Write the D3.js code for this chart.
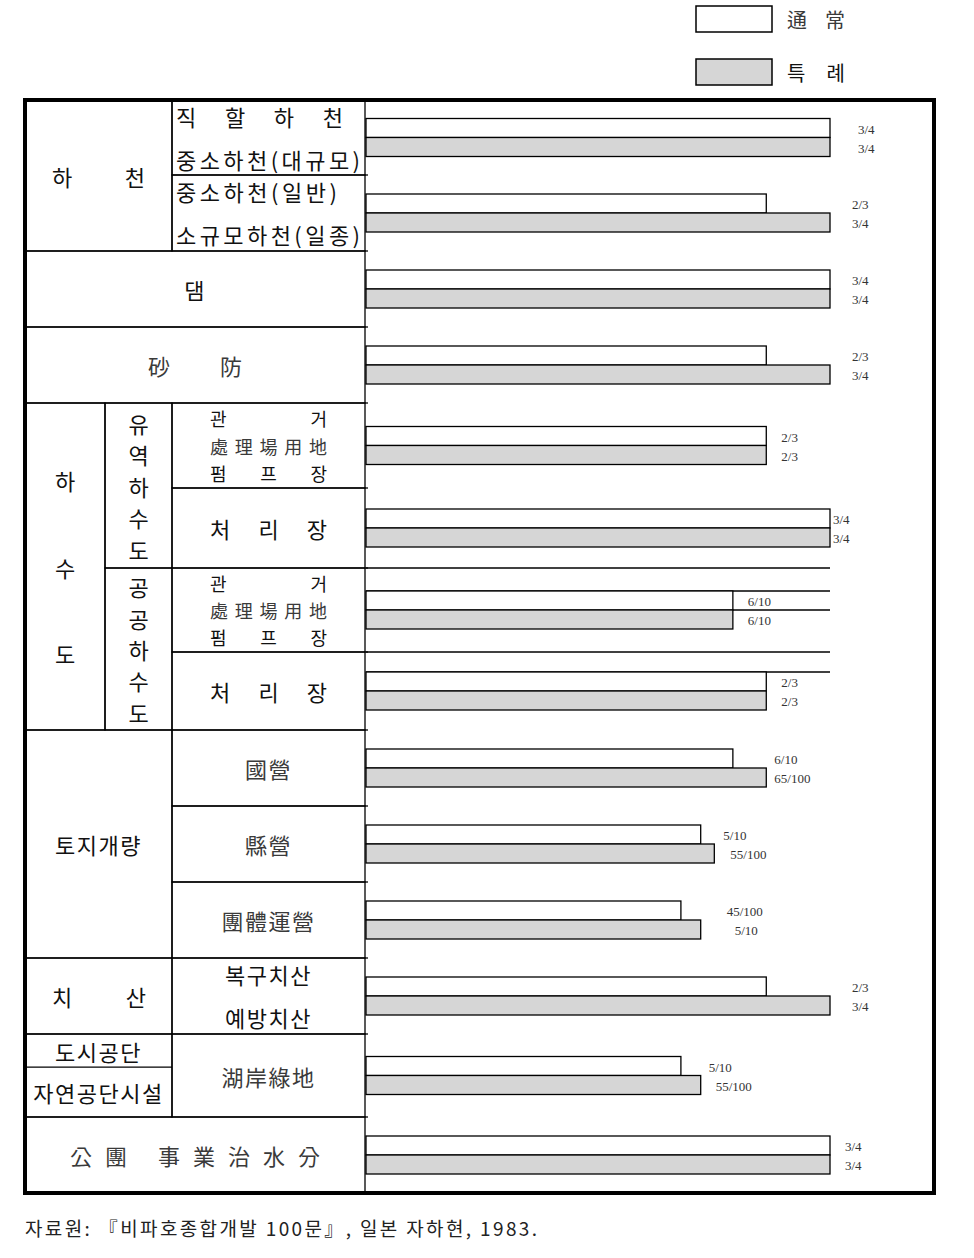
<!DOCTYPE html>
<html><head><meta charset="utf-8">
<script src="https://cdn.jsdelivr.net/npm/d3@7"></script>
<style>body{margin:0;background:#fff} svg{display:block}</style>
</head><body>
<svg id="c" width="974" height="1258"></svg>
<script>
// ---------------- DATA ----------------
const categories = ['직할하천·중소하천(대규모)','중소하천(일반)·소규모하천(일종)','댐','砂防',
  '유역하수도 관거·處理場用地·펌프장','유역하수도 처리장','공공하수도 관거·處理場用地·펌프장','공공하수도 처리장',
  '토지개량 國營','토지개량 縣營','토지개량 團體運營','치산','湖岸綠地','公團事業治水分'];
const seriesNames = ['通常','특례'];
// bar lengths as drawn in the figure (fraction units)
const normalValues  = [0.75,0.647,0.75,0.647,0.647,0.75,0.593,0.647,0.593,0.541,0.509,0.647,0.509,0.75];
const specialValues = [0.75,0.75,0.75,0.75,0.647,0.75,0.593,0.647,0.647,0.563,0.541,0.75,0.541,0.75];
const normalLabels  = ['3/4','2/3','3/4','2/3','2/3','3/4','6/10','2/3','6/10','5/10','45/100','2/3','5/10','3/4'];
const specialLabels = ['3/4','3/4','3/4','3/4','2/3','3/4','6/10','2/3','65/100','55/100','5/10','3/4','55/100','3/4'];
const sourceNote = '자료원: 『비파호종합개발 100문』, 일본 자하현, 1983.';

// ---------------- LAYOUT ----------------
const frame = {x0:25, x1:934, y0:100, y1:1193};
const colEdges = [25,105,172,365];
const rowUnits = [75,76,76,76,85,80,84,78,76,76,76,76,83,76];
const labelGapN = [28,22,22,22,15,3,15,15,8,9,26,22,8,15];
const labelGapS = [28,22,22,22,15,3,15,15,8,16,34,22,15,15];
const KFONT = '"Noto Sans CJK KR","Noto Sans CJK SC",sans-serif';
const cells = [
  {c:[0,2], r:[0,1], lines:[{t:'하천', l:27, r:27}]},
  {c:[2,3], r:[0,0], lines:[{t:'직할하천', l:4, r:22},{t:'중소하천(대규모)', l:4, r:5}]},
  {c:[2,3], r:[1,1], lines:[{t:'중소하천(일반)', l:4, r:28},{t:'소규모하천(일종)', l:4, r:5}]},
  {c:[0,3], r:[2,2], lines:[{t:'댐'}]},
  {c:[0,3], r:[3,3], lines:[{t:'砂防', l:123, r:123}]},
  {c:[0,1], r:[4,7], vertical:'하수도', step:86.5},
  {c:[1,2], r:[4,5], vertical:'유역하수도', step:31.5},
  {c:[1,2], r:[6,7], vertical:'공공하수도', step:31.3},
  {c:[2,3], r:[4,4], size:18, lines:[{t:'관거',l:38,r:38},{t:'處理場用地',l:38,r:38},{t:'펌프장',l:38,r:38}]},
  {c:[2,3], r:[5,5], lines:[{t:'처리장',l:38,r:38}]},
  {c:[2,3], r:[6,6], size:18, lines:[{t:'관거',l:38,r:38},{t:'處理場用地',l:38,r:38},{t:'펌프장',l:38,r:38}]},
  {c:[2,3], r:[7,7], lines:[{t:'처리장',l:38,r:38}]},
  {c:[0,2], r:[8,10], lines:[{t:'토지개량'}]},
  {c:[2,3], r:[8,8], lines:[{t:'國營'}]},
  {c:[2,3], r:[9,9], lines:[{t:'縣營'}]},
  {c:[2,3], r:[10,10], lines:[{t:'團體運營'}]},
  {c:[0,2], r:[11,11], lines:[{t:'치산', l:27, r:26}]},
  {c:[2,3], r:[11,11], lines:[{t:'복구치산'},{t:'예방치산'}]},
  {c:[0,2], r:[12,12], lines:[{t:'도시공단'},{t:'자연공단시설'}], fr:[0.2,0.7], split:0.4},
  {c:[2,3], r:[12,12], lines:[{t:'湖岸綠地'}]},
  {c:[0,3], r:[13,13], lines:[{t:'公團 事業治水分', l:45, r:45}]}
];
const guideRows = {6:['top','normal','special'], 7:['top','normal']};

// ---------------- DRAW ----------------
const svg = d3.select('#c');
const cum = [0]; rowUnits.forEach(u => cum.push(cum[cum.length-1]+u));
const yLin = d3.scaleLinear().domain([0, cum[cum.length-1]]).range([frame.y0, frame.y1]);
const rowTop = i => yLin(cum[i]);
const rowBot = i => yLin(cum[i+1]);
const rowMid = i => (rowTop(i)+rowBot(i))/2;
const x = d3.scaleLinear().domain([0, 0.75]).range([366, 830]);
const sub = d3.scaleBand().domain(['normal','special']).range([-19, 19]);
const isHanja = t => /[\u4E00-\u9FFF]/.test(t);

function putText(t, y, x0, x1, size, spread) {
  const el = svg.append('text').text(t).attr('y', y)
    .attr('font-family', KFONT).attr('font-size', size)
    .attr('dominant-baseline', 'central')
    .attr('fill', isHanja(t) ? '#3a3a3a' : '#111');
  if (spread) {
    el.attr('x', x0).attr('text-anchor','start')
      .attr('textLength', x1 - x0).attr('lengthAdjust','spacing');
  } else {
    el.attr('x', (x0+x1)/2).attr('text-anchor','middle').attr('letter-spacing', 1.5);
  }
  return el;
}

// table cells
cells.forEach(cell => {
  const X0 = colEdges[cell.c[0]], X1 = colEdges[cell.c[1]];
  const Y0 = rowTop(cell.r[0]), Y1 = rowBot(cell.r[1]);
  const size = cell.size || 22;
  svg.append('rect').attr('x', X0).attr('y', Y0).attr('width', X1-X0).attr('height', Y1-Y0)
    .attr('fill','none').attr('stroke','#000').attr('stroke-width',1.3);
  if (cell.split) {
    const ys = Y0 + (Y1-Y0)*cell.split;
    svg.append('line').attr('x1',X0).attr('x2',X1).attr('y1',ys).attr('y2',ys)
      .attr('stroke','#000').attr('stroke-width',1.3);
  }
  if (cell.vertical) {
    const chars = Array.from(cell.vertical), n = chars.length, cy = (Y0+Y1)/2;
    chars.forEach((ch,i) => putText(ch, cy + (i-(n-1)/2)*cell.step, X0, X1, size, false)
      .attr('letter-spacing', 0));
  } else {
    const n = cell.lines.length;
    const fr = cell.fr || (n===1 ? [0.5] : n===2 ? [0.21,0.78] : [0.18,0.5,0.82]);
    cell.lines.forEach((ln,i) => {
      const y = Y0 + (Y1-Y0)*fr[i];
      if (ln.l !== undefined) putText(ln.t, y, X0+ln.l, X1-ln.r, size, true);
      else putText(ln.t, y, X0, X1, size, false);
    });
  }
});
// row ticks extending past the table edge
d3.range(1, rowUnits.length).forEach(i => {
  svg.append('line').attr('x1', colEdges[3]).attr('x2', colEdges[3]+3)
    .attr('y1', rowTop(i)).attr('y2', rowTop(i)).attr('stroke','#000').attr('stroke-width',1.3);
});

// guide lines (공공하수도 rows)
const xMax = d3.max(normalValues.concat(specialValues));
Object.entries(guideRows).forEach(([ri, kinds]) => {
  const i = +ri, c = rowMid(i);
  kinds.forEach(k => {
    const y = k==='top' ? rowTop(i) : c + sub(k);
    svg.append('line').attr('x1', x(0)).attr('x2', x(xMax)).attr('y1', y).attr('y2', y)
      .attr('stroke','#000').attr('stroke-width',1.3);
  });
});

// bars
const rows = categories.map((cat,i) => ({cat, i, n:normalValues[i], s:specialValues[i], nl:normalLabels[i], sl:specialLabels[i]}));
const g = svg.append('g');
rows.forEach(d => {
  const c = rowMid(d.i);
  [['normal', d.n, d.nl, '#fff', labelGapN[d.i]], ['special', d.s, d.sl, '#d6d6d6', labelGapS[d.i]]]
  .forEach(([k, v, lab, fill, gap]) => {
    g.append('rect').attr('x', x(0)).attr('y', c + sub(k)).attr('width', x(v)-x(0))
      .attr('height', sub.bandwidth()).attr('fill', fill).attr('stroke','#000').attr('stroke-width',1.3);
    g.append('text').text(lab).attr('x', x(Math.max(d.n, d.s)) + gap)
      .attr('y', c + sub(k) + sub.bandwidth()/2 + 1).attr('dominant-baseline','central')
      .attr('font-family','"Liberation Serif",serif').attr('font-size',13).attr('fill','#333');
  });
});

// outer frame
svg.append('rect').attr('x', frame.x0).attr('y', frame.y0)
  .attr('width', frame.x1-frame.x0).attr('height', frame.y1-frame.y0)
  .attr('fill','none').attr('stroke','#000').attr('stroke-width',4);

// legend
const leg = svg.append('g');
[['#fff', 19], ['#d6d6d6', 72]].forEach(([fill, cy], i) => {
  leg.append('rect').attr('x', 696).attr('y', cy-13).attr('width', 76).attr('height', 26)
    .attr('fill', fill).attr('stroke','#000').attr('stroke-width',1.5);
  putText(seriesNames[i], cy, 787, 845, 20, true);
});

// source note
svg.append('text').text(sourceNote).attr('x', 25).attr('y', 1227)
  .attr('dominant-baseline','central').attr('font-family', KFONT).attr('font-size', 19)
  .attr('fill','#222').attr('textLength', 512).attr('lengthAdjust','spacing');
</script>
</body></html>
